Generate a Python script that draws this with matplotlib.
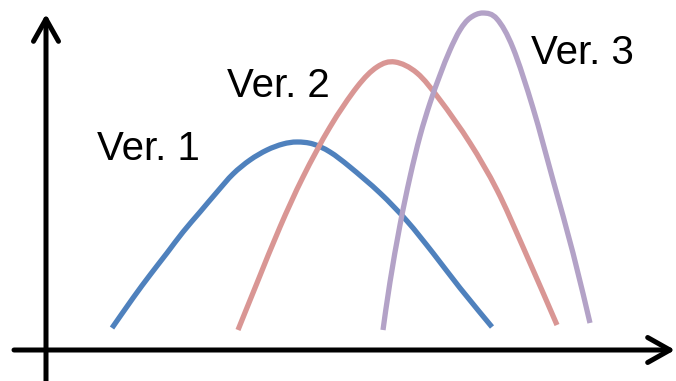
import matplotlib
matplotlib.use("Agg")
import matplotlib.pyplot as plt
from matplotlib.path import Path
from matplotlib.patches import PathPatch

# curve points (pixel units, y grows downward)
ver1_x = [112, 133, 150, 167, 183, 200, 217, 233, 250, 267, 283, 297, 313, 330, 350, 380, 407, 433, 460, 492]
ver1_y = [328, 298, 275, 253, 232, 212, 192, 174, 160, 150, 144, 142, 144, 152, 167, 193, 221, 253, 288, 327]

ver2_x = [238, 257, 280, 303, 330, 357, 377, 395, 417, 440, 470, 497, 523, 557]
ver2_y = [330, 283, 227, 177, 127, 87, 67, 62, 73, 100, 143, 190, 247, 325]

ver3_x = [383, 390, 400, 410, 420, 430, 440, 450, 460, 470, 483, 497, 513, 533, 553, 573, 590]
ver3_y = [330, 282, 225, 177, 136, 103, 75, 50, 30, 18, 13, 19, 48, 108, 180, 253, 323]

labels = ["Ver. 1", "Ver. 2", "Ver. 3"]
label_x = [97, 227, 531]
label_y = [160, 97, 64]

colors = ["#4F81BD", "#D99694", "#B3A2C7"]


def smooth_path(xs, ys):
    # catmull-rom through the read points, handed to matplotlib as bezier segments
    pts = list(zip(xs, ys))
    verts = [pts[0]]
    codes = [Path.MOVETO]
    n = len(pts)
    for i in range(n - 1):
        p0 = pts[max(i - 1, 0)]
        p1 = pts[i]
        p2 = pts[i + 1]
        p3 = pts[min(i + 2, n - 1)]
        c1 = (p1[0] + (p2[0] - p0[0]) / 6, p1[1] + (p2[1] - p0[1]) / 6)
        c2 = (p2[0] - (p3[0] - p1[0]) / 6, p2[1] - (p3[1] - p1[1]) / 6)
        verts += [c1, c2, p2]
        codes += [Path.CURVE4] * 3
    return Path(verts, codes)


fig = plt.figure(figsize=(6.76, 3.81), dpi=100)
ax = fig.add_axes([0, 0, 1, 1])
ax.set_xlim(0, 676)
ax.set_ylim(381, 0)
ax.axis("off")

# axes drawn as arrows
arrow = dict(arrowstyle="->,head_length=0.8,head_width=0.45", lw=3.6, color="black",
             mutation_scale=20, shrinkA=0, shrinkB=0)
ax.annotate("", xy=(46, 14), xytext=(46, 381), arrowprops=arrow)
ax.annotate("", xy=(675, 350), xytext=(14, 350), arrowprops=arrow)

for xs, ys, c in zip([ver1_x, ver2_x, ver3_x], [ver1_y, ver2_y, ver3_y], colors):
    patch = PathPatch(smooth_path(xs, ys), facecolor="none", edgecolor=c, lw=3.8,
                      capstyle="butt", joinstyle="round")
    ax.add_patch(patch)

for t, x, y in zip(labels, label_x, label_y):
    ax.text(x, y, t, fontsize=29, family="Liberation Sans", ha="left", va="baseline")

fig.savefig("out.png", dpi=100)
